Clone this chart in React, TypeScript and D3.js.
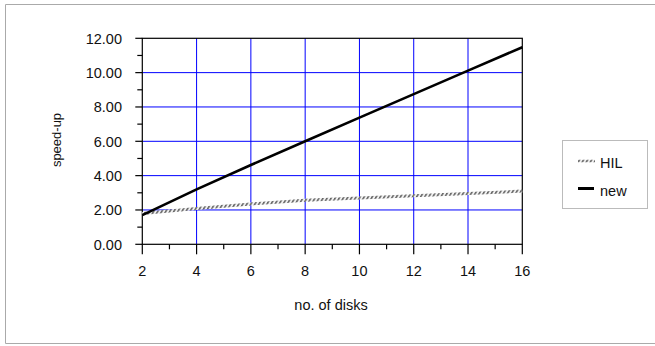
import React from "react";
import * as d3 from "d3";

const disks = [2, 4, 6, 8, 10, 12, 14, 16];
const hilValues = [1.8, 2.08, 2.35, 2.57, 2.7, 2.83, 2.96, 3.1];
const newValues = [1.7, 3.2, 4.62, 6.0, 7.38, 8.75, 10.12, 11.48];
const xTicks = [2, 4, 6, 8, 10, 12, 14, 16];
const yTicks = [0, 2, 4, 6, 8, 10, 12];
const seriesNames = ["HIL", "new"];

const W = 655;
const H = 346;
const FONT = "'Liberation Sans', Arial, sans-serif";

export default function App() {
  const x = d3.scaleLinear().domain([2, 16]).range([142.3, 522.3]);
  const y = d3.scaleLinear().domain([0, 12]).range([244.3, 38.3]);
  const line = d3
    .line<number>()
    .x((_, i) => x(disks[i]))
    .y((d) => y(d));

  const minorX = d3.range(3, 16, 2);
  const minorY = d3.range(1, 12, 2);
  const [x0, x1] = x.range();
  const [y0, y1] = y.range();

  return (
    <svg
      width={W}
      height={H}
      style={{ position: "absolute", left: 0, top: 0, background: "#fff" }}
      fontFamily={FONT}
    >
      <defs>
        <pattern id="hatch" patternUnits="userSpaceOnUse" width="3.5" height="3.5" patternTransform="rotate(30)">
          <rect width="3.5" height="3.5" fill="#f0f0f0" />
          <line x1="0.8" y1="0" x2="0.8" y2="3.5" stroke="#3a3a3a" strokeWidth="1.2" />
        </pattern>
      </defs>
      {/* outer frame */}
      <path d={`M${W},4.5 H5.5 V343.5 H${W}`} fill="none" stroke="#aaa" strokeWidth={1} />

      {/* grid */}
      {xTicks.filter((t) => t !== 2 && t !== 16).map((t) => (
        <line key={"gx" + t} x1={x(t)} x2={x(t)} y1={y0} y2={y1} stroke="#0000ff" strokeWidth={1} />
      ))}
      {yTicks.filter((t) => t !== 0 && t !== 12).map((t) => (
        <line key={"gy" + t} x1={x0} x2={x1} y1={y(t)} y2={y(t)} stroke="#0000ff" strokeWidth={1} />
      ))}

      {/* frame */}
      <rect x={x0} y={y1} width={x1 - x0} height={y0 - y1} fill="none" stroke="#000" strokeWidth={1.2} />

      {/* y ticks */}
      {yTicks.map((t) => (
        <g key={"yt" + t}>
          <line x1={x0 - 7} x2={x0} y1={y(t)} y2={y(t)} stroke="#000" strokeWidth={1.2} />
          <text x={122} y={y(t)} dy="0.36em" textAnchor="end" fontSize={14.5} fill="#111">
            {t.toFixed(2)}
          </text>
        </g>
      ))}
      {minorY.map((t) => (
        <line key={"ym" + t} x1={x0 - 5} x2={x0} y1={y(t)} y2={y(t)} stroke="#000" strokeWidth={1.2} />
      ))}

      {/* x ticks */}
      {xTicks.map((t) => (
        <g key={"xt" + t}>
          <line x1={x(t)} x2={x(t)} y1={y0} y2={y0 + 10} stroke="#000" strokeWidth={1.2} />
          <text x={x(t)} y={270.5} dy="0.36em" textAnchor="middle" fontSize={14.5} fill="#111">
            {t}
          </text>
        </g>
      ))}
      {minorX.map((t) => (
        <line key={"xm" + t} x1={x(t)} x2={x(t)} y1={y0} y2={y0 + 5} stroke="#000" strokeWidth={1.2} />
      ))}

      {/* axis titles */}
      <text x={331} y={305} dy="0.36em" textAnchor="middle" fontSize={14.5} fill="#111">
        no. of disks
      </text>
      <text
        transform={`translate(56,140) rotate(-90)`}
        dy="0.36em"
        textAnchor="middle"
        fontSize={13}
        fill="#111"
      >
        speed-up
      </text>

      {/* series */}
      <path d={line(hilValues) || ""} fill="none" stroke="url(#hatch)" strokeWidth={3} />
      <path d={line(newValues) || ""} fill="none" stroke="#000" strokeWidth={2.6} />

      {/* legend */}
      <rect x={562.5} y={140.5} width={85} height={68} fill="#fff" stroke="#bbb" strokeWidth={1} />
      <line x1={578} x2={595} y1={161} y2={161} stroke="url(#hatch)" strokeWidth={2.5} />
      <text x={600} y={163} dy="0.36em" fontSize={14.5} fill="#111">
        {seriesNames[0]}
      </text>
      <line x1={578} x2={594} y1={188.5} y2={188.5} stroke="#000" strokeWidth={3} />
      <text x={600} y={190.7} dy="0.36em" fontSize={14.5} fill="#111">
        {seriesNames[1]}
      </text>
    </svg>
  );
}
